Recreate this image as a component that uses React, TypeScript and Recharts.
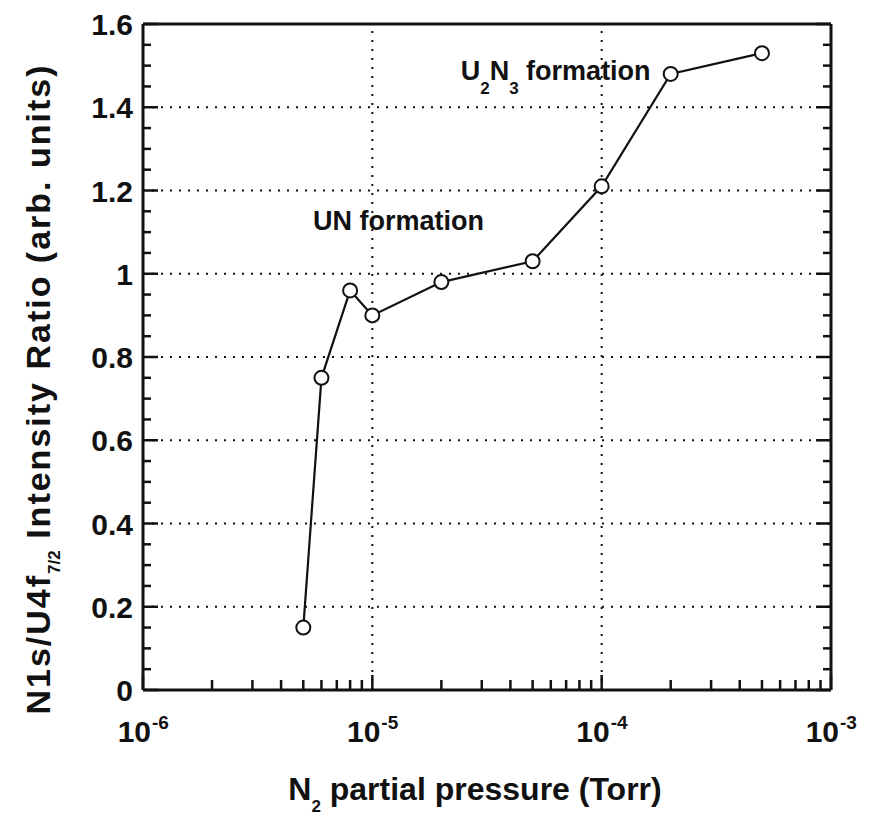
import React from 'react';
import { LineChart, Line, XAxis, YAxis, ReferenceLine, ReferenceDot } from 'recharts';

// N2 partial pressure (Torr) and N1s/U4f7/2 intensity ratio
const pressure = [5e-6, 6e-6, 8e-6, 1e-5, 2e-5, 5e-5, 1e-4, 2e-4, 5e-4];
const ratio = [0.15, 0.75, 0.96, 0.9, 0.98, 1.03, 1.21, 1.48, 1.53];

const decades = [1e-6, 1e-5, 1e-4, 1e-3];
const mantissas = [1, 2, 3, 4, 5, 6, 7, 8, 9];
const yGrid = [0.2, 0.4, 0.6, 0.8, 1, 1.2, 1.4];
const xGrid = [1e-5, 1e-4];

const xTicks = decades.flatMap((d) => (d < 1e-3 ? mantissas.map((m) => m * d) : [d]));
const yTicks = Array.from({ length: 33 }, (_, i) => i * 0.05);

const data = pressure.map((p, i) => ({ pressure: p, ratio: ratio[i] }));

const FONT = '"Liberation Sans", Arial, Helvetica, sans-serif';
const INK = '#111';

const isDecade = (v: number) => Math.abs(Math.log10(v) - Math.round(Math.log10(v))) < 1e-6;
const isMajorY = (v: number) => Math.abs(v * 5 - Math.round(v * 5)) < 1e-6;

const BottomTick = ({ x, y, payload }: any) => {
  const v = payload.value;
  const major = isDecade(v);
  return (
    <g>
      <line x1={x} x2={x} y1={y} y2={y - (major ? 15 : 10)} stroke={INK} strokeWidth={2.5} />
      {major && (
        <g fontFamily={FONT} fontWeight="bold" fill={INK}>
          <text x={x + 8} y={y + 52} textAnchor="end" fontSize={30}>
            10
          </text>
          <text x={x + 9} y={y + 39} textAnchor="start" fontSize={19}>
            {String(Math.round(Math.log10(v)))}
          </text>
        </g>
      )}
    </g>
  );
};

const TopTick = ({ x, y, payload }: any) => {
  const major = isDecade(payload.value);
  return <line x1={x} x2={x} y1={y} y2={y + (major ? 15 : 10)} stroke={INK} strokeWidth={2.5} />;
};

const LeftTick = ({ x, y, payload }: any) => {
  const v = payload.value;
  const major = isMajorY(v);
  return (
    <g>
      <line x1={x} x2={x + (major ? 15 : 8)} y1={y} y2={y} stroke={INK} strokeWidth={2.5} />
      {major && (
        <text x={x - 10} y={y + 11} textAnchor="end" fontSize={30} fontWeight="bold" fontFamily={FONT} fill={INK}>
          {String(Math.round(v * 10) / 10)}
        </text>
      )}
    </g>
  );
};

const RightTick = ({ x, y, payload }: any) => {
  const major = isMajorY(payload.value);
  return <line x1={x} x2={x - (major ? 15 : 8)} y1={y} y2={y} stroke={INK} strokeWidth={2.5} />;
};

const YTitle = () => (
  <text
    transform="translate(50, 389) rotate(-90)"
    textAnchor="middle"
    fontSize={34}
    letterSpacing={2}
    fontWeight="bold"
    fontFamily={FONT}
    fill={INK}
  >
    N1s/U4f
    <tspan fontSize={17} letterSpacing={0} dy={10}>7/2</tspan>
    <tspan dy={-10}> Intensity Ratio (arb. units)</tspan>
  </text>
);

const XTitle = () => (
  <text x={475} y={800} textAnchor="middle" fontSize={32} fontWeight="bold" fontFamily={FONT} fill={INK}>
    N<tspan fontSize={17} dy={12}>2</tspan>
    <tspan dy={-12}> partial pressure (Torr)</tspan>
  </text>
);

const UNLabel = ({ viewBox }: any) => (
  <text x={viewBox.cx ?? viewBox.x} y={(viewBox.cy ?? viewBox.y) + 10} textAnchor="middle" fontSize={27} fontWeight="bold" fontFamily={FONT} fill={INK}>
    UN formation
  </text>
);

const U2N3Label = ({ viewBox }: any) => (
  <text x={viewBox.cx ?? viewBox.x} y={(viewBox.cy ?? viewBox.y) + 10} textAnchor="middle" fontSize={27} fontWeight="bold" fontFamily={FONT} fill={INK}>
    U<tspan fontSize={17} dy={14}>2</tspan>
    <tspan dy={-14}>N</tspan>
    <tspan fontSize={17} dy={14}>3</tspan>
    <tspan dy={-14}> formation</tspan>
  </text>
);

export default function App() {
  return (
    <div style={{ position: 'absolute', left: 0, top: 0, width: 872, height: 818, background: '#fff' }}>
      <LineChart width={872} height={818} data={data} margin={{ top: 23, right: 40, left: 142, bottom: 127 }}>
        <XAxis
          dataKey="pressure"
          type="number"
          scale="log"
          domain={[1e-6, 1e-3]}
          allowDataOverflow
          ticks={xTicks}
          interval={0}
          height={1}
          tickSize={0}
          tickMargin={0}
          tickLine={false}
          axisLine={{ stroke: INK, strokeWidth: 3 }}
          tick={<BottomTick />}
          label={{ content: <XTitle /> }}
        />
        <XAxis
          xAxisId="top"
          orientation="top"
          type="number"
          scale="log"
          domain={[1e-6, 1e-3]}
          allowDataOverflow
          ticks={xTicks}
          interval={0}
          height={1}
          tickSize={0}
          tickMargin={0}
          tickLine={false}
          axisLine={{ stroke: INK, strokeWidth: 3 }}
          tick={<TopTick />}
        />
        <YAxis
          type="number"
          domain={[0, 1.6]}
          allowDataOverflow
          ticks={yTicks}
          interval={0}
          width={1}
          tickSize={0}
          tickMargin={0}
          tickLine={false}
          axisLine={{ stroke: INK, strokeWidth: 3 }}
          tick={<LeftTick />}
          label={{ content: <YTitle /> }}
        />
        <YAxis
          yAxisId="right"
          orientation="right"
          type="number"
          domain={[0, 1.6]}
          allowDataOverflow
          ticks={yTicks}
          interval={0}
          width={1}
          tickSize={0}
          tickMargin={0}
          tickLine={false}
          axisLine={{ stroke: INK, strokeWidth: 3 }}
          tick={<RightTick />}
        />
        {yGrid.map((v) => (
          <ReferenceLine key={'y' + v} y={v} stroke={INK} strokeWidth={2} strokeDasharray="2 7" />
        ))}
        {xGrid.map((v) => (
          <ReferenceLine key={'x' + v} x={v} stroke={INK} strokeWidth={2} strokeDasharray="2 7" />
        ))}
        <ReferenceDot x={1.3e-5} y={1.128} r={0} fill="none" stroke="none" label={{ content: <UNLabel /> }} />
        <ReferenceDot x={6.3e-5} y={1.49} r={0} fill="none" stroke="none" label={{ content: <U2N3Label /> }} />
        <Line
          type="linear"
          dataKey="ratio"
          stroke={INK}
          strokeWidth={2.2}
          dot={{ r: 7, fill: '#fff', stroke: INK, strokeWidth: 2 }}
          isAnimationActive={false}
        />
      </LineChart>
    </div>
  );
}
